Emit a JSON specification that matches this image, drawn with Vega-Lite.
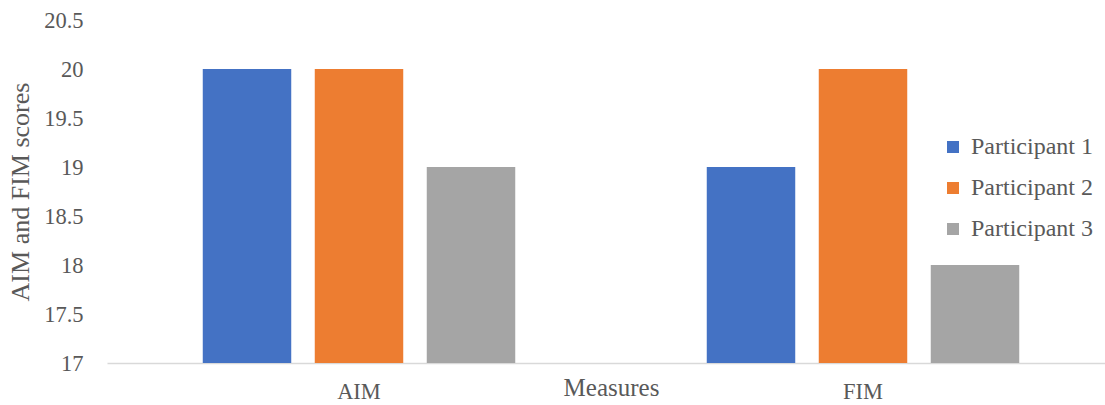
{
  "$schema": "https://vega.github.io/schema/vega-lite/v6.json",
  "autosize": "none",
  "width": 997,
  "height": 343,
  "padding": {"left": 107, "top": 20, "right": 1, "bottom": 42},
  "background": "white",
  "config": {
    "view": {"stroke": null},
    "font": "Liberation Serif"
  },
  "data": {
    "values": [
      {"measure": "AIM", "participant": "Participant 1", "score": 20},
      {"measure": "AIM", "participant": "Participant 2", "score": 20},
      {"measure": "AIM", "participant": "Participant 3", "score": 19},
      {"measure": "FIM", "participant": "Participant 1", "score": 19},
      {"measure": "FIM", "participant": "Participant 2", "score": 20},
      {"measure": "FIM", "participant": "Participant 3", "score": 18}
    ]
  },
  "mark": {"type": "bar", "clip": true},
  "encoding": {
    "x": {
      "field": "measure",
      "type": "nominal",
      "scale": {"paddingInner": 0, "paddingOuter": 0, "range": [0, 1008]},
      "axis": {
        "title": "Measures",
        "labelAngle": 0,
        "ticks": false,
        "domainColor": "#d9d9d9",
        "domainWidth": 1.5,
        "labelFont": "Liberation Serif",
        "labelFontSize": 22.5,
        "labelColor": "#595959",
        "labelPadding": 17,
        "titleFont": "Liberation Serif",
        "titleFontSize": 25,
        "titleFontWeight": "normal",
        "titleColor": "#595959",
        "titlePadding": -27
      }
    },
    "xOffset": {
      "field": "participant",
      "type": "nominal",
      "scale": {"paddingInner": 0.21, "paddingOuter": 0.855}
    },
    "y": {
      "field": "score",
      "type": "quantitative",
      "scale": {"domain": [17, 20.5], "zero": false, "nice": false},
      "axis": {
        "title": "AIM and FIM scores",
        "values": [17, 17.5, 18, 18.5, 19, 19.5, 20, 20.5],
        "format": "~",
        "grid": false,
        "domain": false,
        "ticks": false,
        "labelFont": "Liberation Serif",
        "labelFontSize": 22.5,
        "labelColor": "#595959",
        "labelPadding": 24,
        "titleFont": "Liberation Serif",
        "titleFontSize": 26,
        "titleFontWeight": "normal",
        "titleColor": "#595959",
        "titlePadding": 10
      }
    },
    "color": {
      "field": "participant",
      "type": "nominal",
      "scale": {"range": ["#4472C4", "#ED7D31", "#A5A5A5"]},
      "legend": {
        "title": null,
        "orient": "none",
        "legendX": 834,
        "legendY": 115,
        "symbolType": "square",
        "symbolSize": 144,
        "symbolStrokeWidth": 0,
        "labelFont": "Liberation Serif",
        "labelFontSize": 24,
        "labelColor": "#595959",
        "labelOffset": 6,
        "rowPadding": 17
      }
    }
  }
}
